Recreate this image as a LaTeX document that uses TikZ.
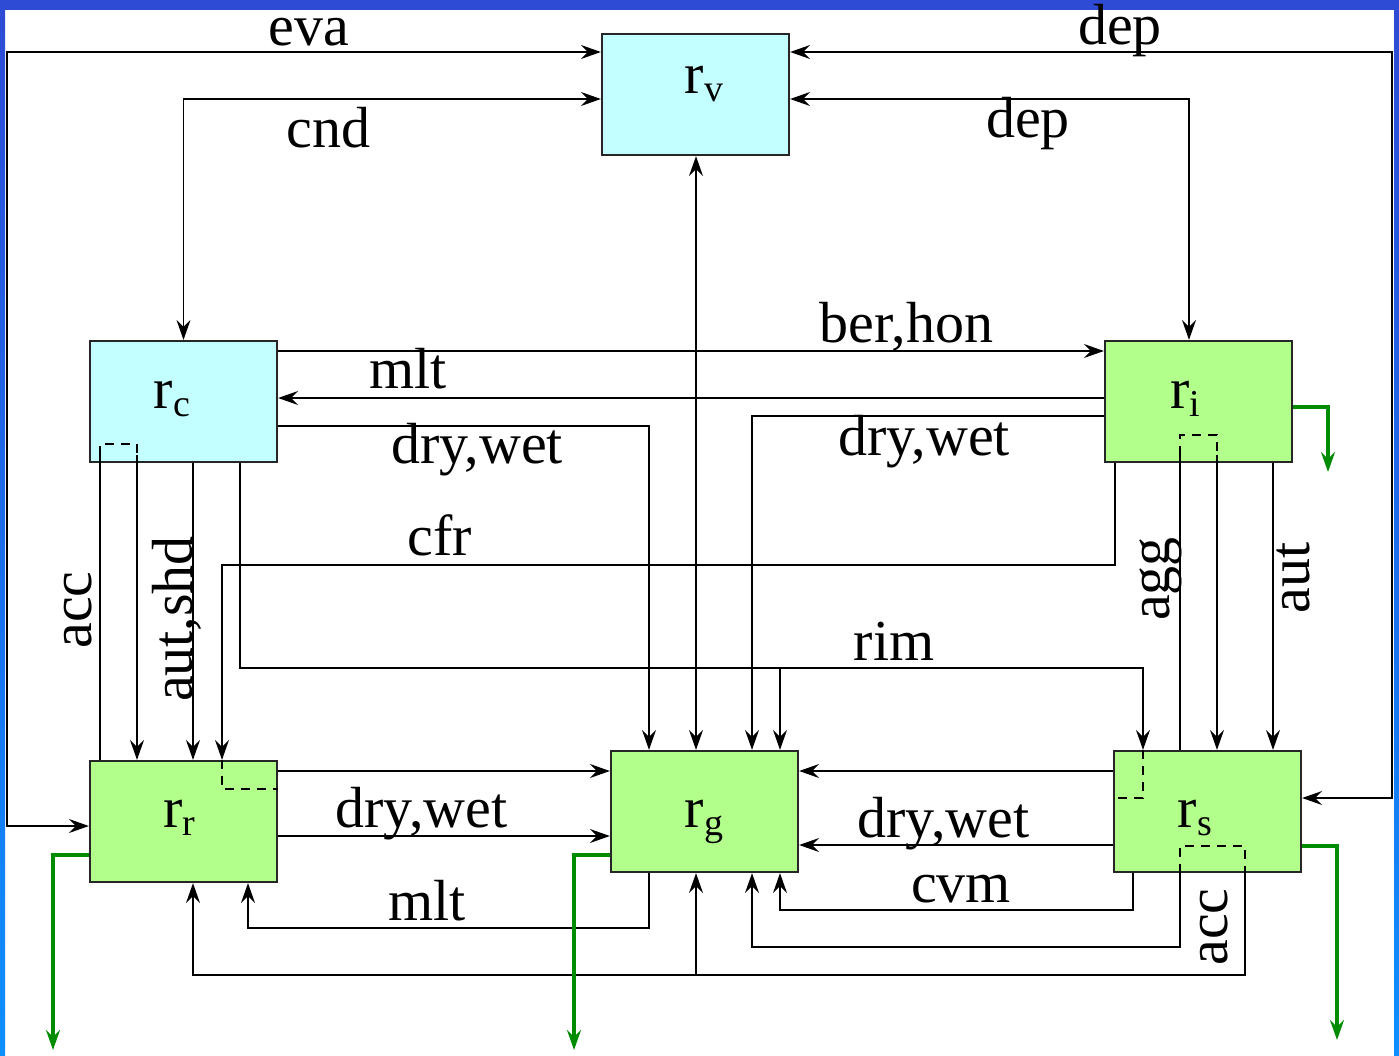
\documentclass[tikz,border=0pt]{standalone}
\usepackage{fontspec}
\setmainfont{Liberation Serif}
\usetikzlibrary{arrows.meta}
\definecolor{cyanbox}{RGB}{196,255,255}
\definecolor{greenbox}{RGB}{179,255,140}
\definecolor{flux}{RGB}{0,140,0}
\definecolor{frameblue}{RGB}{45,75,213}
\definecolor{framelight}{RGB}{13,143,255}
\newcommand{\boxlab}[1]{r\raisebox{-8pt}{\fontsize{38}{40}\selectfont #1}}
\begin{document}
\begin{tikzpicture}[x=1pt,y=-1pt,
  >={Stealth[length=20pt,width=14pt,inset=7pt]},
  line width=1.8pt,
  box/.style={draw=black!85, line width=2.2pt, minimum width=187pt, minimum height=121pt, inner sep=0pt},
  cbox/.style={box, fill=cyanbox},
  gbox/.style={box, fill=greenbox},
  lbl/.style={font=\fontsize{58}{60}\selectfont, inner sep=0pt, anchor=base},
  vlbl/.style={lbl, rotate=90},
  fluxline/.style={draw=flux, line width=3.5pt, ->},
  dsh/.style={dash pattern=on 9pt off 7pt}
]
\useasboundingbox (0,0) rectangle (1399,1055);
% frame
\fill[white] (0,0) rectangle (1399,1055);
\fill[frameblue] (0,0) rectangle (1399,10);
\shade[top color=frameblue, bottom color=framelight] (0,10) rectangle (5,1055);
\shade[top color=frameblue, bottom color=framelight] (1394,10) rectangle (1399,1055);

% boxes
\node[cbox] (rv) at (695.5,94.5) {};
\node[cbox] (rc) at (183.5,401.5) {};
\node[gbox] (ri) at (1198.5,401.5) {};
\node[gbox] (rr) at (183.5,821.5) {};
\node[gbox] (rg) at (704.5,811.5) {};
\node[gbox] (rs) at (1207.5,811.5) {};

\node[lbl] (rvl) at (704,93) {\boxlab{v}};
\node[lbl] (rcl) at (172,408) {\boxlab{c}};
\node[lbl] (ril) at (1185,408) {\boxlab{i}};
\node[lbl] (rrl) at (179,827) {\boxlab{r}};
\node[lbl] (rgl) at (704,827) {\boxlab{g}};
\node[lbl] (rsl) at (1195,827) {\boxlab{s}};

% free ends of the sedimentation arrows
\coordinate (gi) at (1328,472);
\coordinate (gr) at (53,1050);
\coordinate (gg) at (574,1050);
\coordinate (gs) at (1337,1040);

% top connectors
\draw[<->] (rr.west |- 0,826) -| (7,52) -- (rv.west |- 0,52);
\draw[<->] (rc.north) |- (rv.west |- 0,99);
\draw[<->] (rv.east |- 0,52) -| (1392,798) -- (rs.east |- 0,798);
\draw[<->] (rv.east |- 0,99) -| (ri.north -| 1189,0);
\draw[<->] (rv.south -| 696,0) -- (rg.north -| 696,0);

% rc <-> ri
\draw[->] (rc.east |- 0,351) -- (ri.west |- 0,351);
\draw[->] (ri.west |- 0,398) -- (rc.east |- 0,398);

% to rg from above
\draw[->] (rc.east |- 0,426) -| (rg.north -| 649,0);
\draw[->] (ri.west |- 0,416) -| (rg.north -| 752,0);

% cfr
\draw[->] (ri.south -| 1115,0) |- (222,565) -- (rr.north -| 222,0);
% rim
\draw[->] (rc.south -| 240,0) |- (1143,668) -- (rs.north -| 1143,0);
\draw[->] (780,668) -- (rg.north -| 780,0);
% aut,shd / acc from rc
\draw[->] (rc.south -| 193,0) -- (rr.north -| 193,0);
\draw (100,455) -- (rr.north -| 100,0);
\draw[->] (137,455) -- (rr.north -| 137,0);
% agg / aut from ri
\draw (1180,455) -- (rs.north -| 1180,0);
\draw[->] (1217,455) -- (rs.north -| 1217,0);
\draw[->] (ri.south -| 1273,0) -- (rs.north -| 1273,0);

% rr -> rg, rs -> rg
\draw[->] (rr.east |- 0,771) -- (rg.west |- 0,771);
\draw[->] (rr.east |- 0,836) -- (rg.west |- 0,836);
\draw[->] (rs.west |- 0,771) -- (rg.east |- 0,771);
\draw[->] (rs.west |- 0,845) -- (rg.east |- 0,845);

% bottom connectors
\draw[->] (rs.south -| 1133,0) |- (780,910) -- (rg.south -| 780,0);
\draw[->] (rs.south -| 1180,0) |- (752,947) -- (rg.south -| 752,0);
\draw[->] (rs.south -| 1245,0) |- (193,975) -- (rr.south -| 193,0);
\draw[->] (696,975) -- (rg.south -| 696,0);
\draw[->] (rg.south -| 649,0) |- (248,928) -- (rr.south -| 248,0);

% dashed joints
\draw[dsh] (100,455) -- (100,444) -- (137,444) -- (137,455);
\draw[dsh] (1180,455) -- (1180,435) -- (1217,435) -- (1217,455);
\draw[dsh] (rr.north -| 222,0) -- (222,789) -- (rr.east |- 0,789);
\draw[dsh] (rs.north -| 1143,0) -- (1143,798) -- (rs.west |- 0,798);
\draw[dsh] (rs.south -| 1180,0) -- (1180,846) -- (1245,846) -- (rs.south -| 1245,0);

% sedimentation
\draw[fluxline] (ri.east |- 0,407) -| (gi);
\draw[fluxline] (rr.west |- 0,855) -| (gr);
\draw[fluxline] (rg.west |- 0,855) -| (gg);
\draw[fluxline] (rs.east |- 0,846) -| (gs);

% labels
\node[lbl] (leva) at (308.5,45) {eva};
\node[lbl] (lcnd) at (328.5,147) {cnd};
\node[lbl] (ldep1) at (1120,44) {dep};
\node[lbl] (ldep2) at (1028,137) {dep};
\node[lbl] (lber) at (906.5,342) {ber,hon};
\node[lbl] (lmlt1) at (408,388) {mlt};
\node[lbl] (ldw1) at (477,463) {dry,wet};
\node[lbl] (ldw2) at (924,455) {dry,wet};
\node[lbl] (lcfr) at (439.5,555) {cfr};
\node[lbl] (lrim) at (894,660) {rim};
\node[lbl] (ldw3) at (421.5,827) {dry,wet};
\node[lbl] (lmlt2) at (427,920) {mlt};
\node[lbl] (ldw4) at (943.5,837) {dry,wet};
\node[lbl] (lcvm) at (961,902) {cvm};
\node[vlbl] (lacc1) at (91,610) {acc};
\node[vlbl] (laut1) at (192,619) {aut,shd};
\node[vlbl] (lagg) at (1169,579) {agg};
\node[vlbl] (laut2) at (1309,578) {aut};
\node[vlbl] (lacc2) at (1227,927) {acc};
\end{tikzpicture}
\end{document}
